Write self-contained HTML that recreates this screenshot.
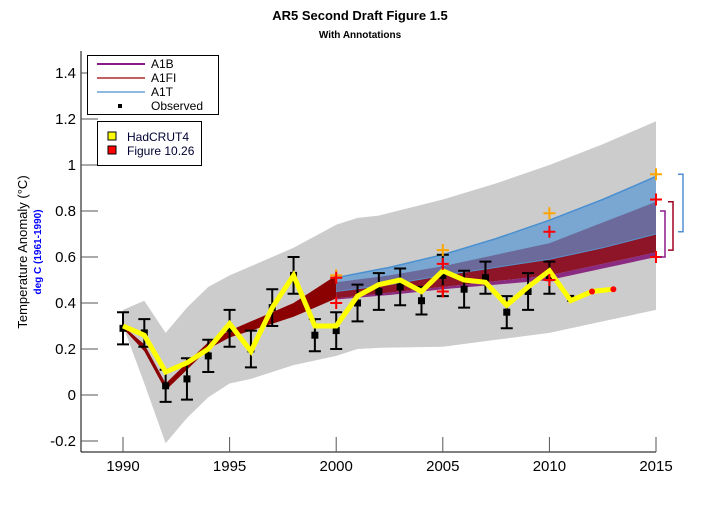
<!DOCTYPE html>
<html><head><meta charset="utf-8"><style>
body{margin:0;background:#fff;}
svg{display:block;font-family:"Liberation Sans",sans-serif;}
</style></head><body>
<svg id="chart" width="720" height="520" viewBox="0 0 720 520" xmlns="http://www.w3.org/2000/svg">
<rect width="720" height="520" fill="#fff"/>
<text x="360" y="20" text-anchor="middle" font-size="13" font-weight="bold">AR5 Second Draft Figure 1.5</text>
<text x="360" y="38" text-anchor="middle" font-size="10" font-weight="bold">With Annotations</text>
<text transform="translate(27,252) rotate(-90)" text-anchor="middle" font-size="13">Temperature Anomaly (°C)</text>
<text transform="translate(41,252) rotate(-90)" text-anchor="middle" font-size="10" font-weight="bold" fill="#0000ff">deg C (1961-1990)</text>
<g id="plot"></g>
<g>
<rect x="87.5" y="55.5" width="131" height="59" fill="#fff" stroke="#000"/>
<line x1="97" y1="64" x2="145" y2="64" stroke="#8b1a8b" stroke-width="2"/>
<text x="151" y="68" font-size="12">A1B</text>
<line x1="97" y1="78" x2="145" y2="78" stroke="#a00000" stroke-width="1.3"/>
<text x="151" y="82" font-size="12">A1FI</text>
<line x1="97" y1="92" x2="145" y2="92" stroke="#4a90d0" stroke-width="1.3"/>
<text x="151" y="96" font-size="12">A1T</text>
<rect x="118" y="104" width="4" height="4" fill="#000"/>
<text x="151" y="110" font-size="12">Observed</text>
</g>
<g>
<rect x="97.5" y="121.5" width="104" height="44" fill="#fff" stroke="#000"/>
<rect x="108" y="132" width="8" height="8" fill="#ffff00" stroke="#000"/>
<text x="127" y="141" font-size="12" fill="#000033">HadCRUT4</text>
<rect x="108" y="146" width="8" height="8" fill="#ff0000" stroke="#000"/>
<text x="127" y="155" font-size="12" fill="#000033">Figure 10.26</text>
</g>
</svg>
<script>
const envYears=[1990,1991,1992,1993,1994,1995,1996,1997,1998,1999,2000,2001,2002,2005,2007.5,2010,2012.5,2015];
const envUpper=[0.37,0.41,0.27,0.38,0.47,0.52,0.56,0.60,0.64,0.69,0.74,0.77,0.78,0.85,0.92,1.00,1.09,1.19];
const envLower=[0.30,0.05,-0.21,-0.10,-0.01,0.05,0.07,0.10,0.13,0.15,0.17,0.20,0.205,0.21,0.24,0.27,0.32,0.37];
const histYears=[1990,1991,1992,1993,1994,1995,1996,1997,1998,1999,2000];
const histTop=[0.30,0.22,0.05,0.14,0.23,0.28,0.32,0.36,0.40,0.46,0.52];
const histBot=[0.29,0.19,0.02,0.11,0.20,0.25,0.28,0.31,0.34,0.38,0.42];
const projYears=[2000,2002.5,2005,2007.5,2010,2012.5,2015];
const blueTop=[0.51,0.555,0.61,0.68,0.76,0.85,0.95];
const purpleTop=[0.49,0.52,0.56,0.61,0.66,0.75,0.84];
const blueBot=[0.45,0.48,0.52,0.555,0.59,0.64,0.70];
const redBot=[0.42,0.445,0.47,0.495,0.52,0.57,0.62];
const purpleBot=[0.415,0.435,0.46,0.48,0.50,0.55,0.60];
const obsYears=[1990,1991,1992,1993,1994,1995,1996,1997,1998,1999,2000,2001,2002,2003,2004,2005,2006,2007,2008,2009,2010,2011];
const obsVals=[0.29,0.27,0.04,0.07,0.17,0.29,0.20,0.38,0.52,0.26,0.28,0.40,0.45,0.47,0.41,0.52,0.46,0.51,0.36,0.45,0.51,0.42];
const obsErr=[0.07,0.06,0.07,0.09,0.07,0.08,0.08,0.08,0.08,0.07,0.08,0.08,0.08,0.08,0.06,0.09,0.08,0.07,0.07,0.08,0.07,0.0];
const hadYears=[1990,1991,1992,1993,1994,1995,1996,1997,1998,1999,2000,2001,2002,2003,2004,2005,2006,2007,2008,2009,2010,2011,2012,2013];
const hadVals=[0.30,0.26,0.10,0.14,0.20,0.31,0.19,0.38,0.52,0.30,0.30,0.43,0.48,0.50,0.45,0.54,0.50,0.49,0.39,0.47,0.54,0.41,0.45,0.46];
const redDotYears=[2012,2013];
const redDotVals=[0.45,0.46];
const orangeYears=[2000,2005,2010,2015];
const orangeVals=[0.52,0.63,0.79,0.96];
const redCrossYears=[2000,2000,2005,2005,2010,2010,2015,2015];
const redCrossVals=[0.51,0.40,0.57,0.45,0.71,0.50,0.85,0.60];
const bracketNames=['bracket-a1t','bracket-a1fi','bracket-a1b'];
const bracketTop=[0.96,0.84,0.80];
const bracketBot=[0.71,0.63,0.60];
const yTicks=[-0.2,0,0.2,0.4,0.6,0.8,1,1.2,1.4];
const yTickLabels=['-0.2','0','0.2','0.4','0.6','0.8','1','1.2','1.4'];
const xTicks=[1990,1995,2000,2005,2010,2015];
const xTickLabels=['1990','1995','2000','2005','2010','2015'];

const NS='http://www.w3.org/2000/svg';
const X=yr=>123+(656-123)*(yr-1990)/25;
const Y=v=>395-230*v;
const plot=document.getElementById('plot');
function mk(tag,attrs){const e=document.createElementNS(NS,tag);for(const k in attrs)e.setAttribute(k,attrs[k]);plot.appendChild(e);return e;}
function band(xs,top,bot,fill){let p=xs.map((x,i)=>X(x)+','+Y(top[i]));for(let i=xs.length-1;i>=0;i--)p.push(X(xs[i])+','+Y(bot[i]));return mk('polygon',{points:p.join(' '),fill:fill});}

let e;
e=band(envYears,envUpper,envLower,'#cccccc');


e=mk('line',{x1:81,y1:51,x2:81,y2:452,stroke:'#000','stroke-width':1});


e=mk('line',{x1:81,y1:452,x2:656,y2:452,stroke:'#000','stroke-width':1});


yTicks.forEach((v,i)=>{
  const t=mk('line',{x1:81,y1:Y(v),x2:98,y2:Y(v),stroke:'#555'});
  
  
  const l=mk('text',{x:76,y:Y(v)+5,'text-anchor':'end','font-size':15});
  l.textContent=yTickLabels[i];
  
  
});
xTicks.forEach((v,i)=>{
  const t=mk('line',{x1:X(v),y1:452,x2:X(v),y2:437,stroke:'#555'});
  
  
  const l=mk('text',{x:X(v),y:471,'text-anchor':'middle','font-size':15});
  l.textContent=xTickLabels[i];
  
  
});
e=band(histYears,histTop,histBot,'#8b0000');


e=band(projYears,blueTop,blueBot,'#79a7d2');


e=band(projYears,purpleTop,blueBot,'#6b6a9a');


e=band(projYears,blueBot,redBot,'#8e1428');


e=band(projYears,redBot,purpleBot,'#8a2a80');


e=mk('polyline',{points:projYears.map((x,i)=>X(x)+','+Y(blueTop[i])).join(' '),fill:'none',stroke:'#4a90d0','stroke-width':1.5});


e=mk('polyline',{points:projYears.map((x,i)=>X(x)+','+Y(blueBot[i])).join(' '),fill:'none',stroke:'#5a90c8','stroke-width':1});


obsYears.forEach((yr,i)=>{
  const x=X(yr),v=obsVals[i],er=obsErr[i];
  if(er>0){
    const g=mk('path',{d:`M${x},${Y(v+er)}V${Y(v-er)}M${x-6},${Y(v+er)}H${x+6}M${x-6},${Y(v-er)}H${x+6}`,stroke:'#000','stroke-width':2,fill:'none'});
    
    
  }
  const s=mk('rect',{x:x-3.5,y:Y(v)-3.5,width:7,height:7,fill:'#000'});
  
  
});
e=mk('polyline',{points:hadYears.map((x,i)=>X(x)+','+Y(hadVals[i])).join(' '),fill:'none',stroke:'#ffff00','stroke-width':5,'stroke-linejoin':'miter'});


redDotYears.forEach((yr,i)=>{
  const c=mk('circle',{cx:X(yr),cy:Y(redDotVals[i]),r:3,fill:'#ff0000'});
  
  
});
function cross(yr,v,col,name){
  const x=X(yr),y=Y(v);
  const c=mk('path',{d:`M${x-6},${y}H${x+6}M${x},${y-6}V${y+6}`,stroke:col,'stroke-width':2});
  
  
}
orangeYears.forEach((yr,i)=>cross(yr,orangeVals[i],'#ffa500','orange-cross'));
redCrossYears.forEach((yr,i)=>cross(yr,redCrossVals[i],'#ff0000','red-cross'));
const bx=[683,673,665],bc=['#5090d0','#a00020','#8b1a8b'];
bracketNames.forEach((n,i)=>{
  const b=mk('path',{d:`M${bx[i]-5},${Y(bracketTop[i])}H${bx[i]}V${Y(bracketBot[i])}H${bx[i]-5}`,fill:'none',stroke:bc[i],'stroke-width':1.5});
  
  
});
</script>
</body></html>
